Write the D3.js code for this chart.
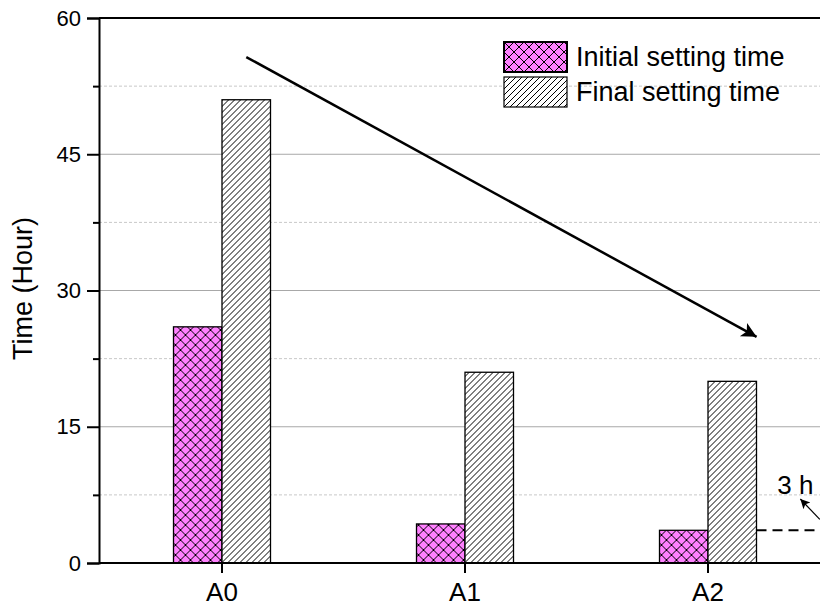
<!DOCTYPE html>
<html>
<head>
<meta charset="utf-8">
<script src="https://cdn.jsdelivr.net/npm/d3@7"></script>
<style>
  body { margin: 0; background: #fff; }
  svg { display: block; font-family: "Liberation Sans", Arial, sans-serif; }
</style>
</head>
<body>
<div id="chart"></div>
<script>
// data
const categories = ["A0", "A1", "A2"];
const series = ["Initial setting time", "Final setting time"];
const initialTime = [26, 4.3, 3.6];
const finalTime = [51, 21, 20];
const yTicks = [0, 15, 30, 45, 60];
const yMinorTicks = [7.5, 22.5, 37.5, 52.5];

const width = 820, height = 609;
const margin = { top: 18, left: 99, bottom: 46 };
const step = 243;

const svg = d3.select("#chart").append("svg")
    .attr("width", width)
    .attr("height", height);

const defs = svg.append("defs");

// crosshatch for initial setting time
const cross = defs.append("pattern")
    .attr("id", "cross")
    .attr("patternUnits", "userSpaceOnUse")
    .attr("width", 10).attr("height", 10);
cross.append("rect").attr("width", 10).attr("height", 10).attr("fill", "#ff80ff");
cross.append("path")
    .attr("d", "M0,0L10,10M10,0L0,10M-5,5L5,15M5,-5L15,5M-5,5L5,-5M5,15L15,5")
    .attr("stroke", "#000").attr("stroke-width", 1);

// diagonal hatch for final setting time
const hatch = defs.append("pattern")
    .attr("id", "hatch")
    .attr("patternUnits", "userSpaceOnUse")
    .attr("width", 6).attr("height", 6);
hatch.append("rect").attr("width", 6).attr("height", 6).attr("fill", "#fff");
hatch.append("path")
    .attr("d", "M-1,7L7,-1M-4,4L4,-4M2,10L10,2")
    .attr("stroke", "#000").attr("stroke-width", 1);

defs.append("marker")
    .attr("id", "head")
    .attr("viewBox", "0 0 10 10")
    .attr("refX", 10).attr("refY", 5)
    .attr("markerWidth", 8).attr("markerHeight", 6)
    .attr("markerUnits", "strokeWidth")
    .attr("orient", "auto")
  .append("path").attr("d", "M0,0L10,5L0,10L2.5,5Z").attr("fill", "#000");

defs.append("marker")
    .attr("id", "smallhead")
    .attr("viewBox", "0 0 10 10")
    .attr("refX", 10).attr("refY", 5)
    .attr("markerWidth", 10).attr("markerHeight", 8)
    .attr("markerUnits", "strokeWidth")
    .attr("orient", "auto")
  .append("path").attr("d", "M0,0L10,5L0,10L2.5,5Z").attr("fill", "#000");

const y = d3.scaleLinear().domain([0, 60]).range([height - margin.bottom, margin.top]);
const x = d3.scaleBand().domain(categories)
    .range([margin.left + 1.5, margin.left + 1.5 + step * categories.length]);
const xs = d3.scaleBand().domain(series)
    .range([x.bandwidth() / 2 - 48.5, x.bandwidth() / 2 + 48.5]);
// continuous category index for annotations
const xi = d3.scaleLinear().domain([0, 2])
    .range([x("A0") + x.bandwidth() / 2, x("A2") + x.bandwidth() / 2]);

const right = width + 10;

// gridlines
svg.append("g").selectAll("line").data(yMinorTicks).join("line")
    .attr("x1", margin.left).attr("x2", right)
    .attr("y1", d => y(d)).attr("y2", d => y(d))
    .attr("stroke", "#c8c8c8").attr("stroke-dasharray", "3,2");
svg.append("g").selectAll("line").data(yTicks.filter(d => d > 0 && d < 60)).join("line")
    .attr("x1", margin.left).attr("x2", right)
    .attr("y1", d => y(d)).attr("y2", d => y(d))
    .attr("stroke", "#a8a8a8").attr("stroke-width", 1);

// bars
const rows = categories.map((c, i) => ({ cat: c, vals: [initialTime[i], finalTime[i]] }));
const groups = svg.append("g").selectAll("g").data(rows).join("g")
    .attr("transform", d => `translate(${x(d.cat)},0)`);
groups.selectAll("rect")
  .data(d => d.vals.map((v, j) => ({ s: series[j], v: v, j: j })))
  .join("rect")
    .attr("x", d => xs(d.s))
    .attr("width", xs.bandwidth())
    .attr("y", d => y(d.v))
    .attr("height", d => y(0) - y(d.v))
    .attr("fill", d => d.j === 0 ? "url(#cross)" : "url(#hatch)")
    .attr("stroke", "#000")
    .attr("stroke-width", 1.3);

// axes
const yAxis = svg.append("g")
    .attr("transform", `translate(${margin.left},0)`)
    .call(d3.axisLeft(y).tickValues(yTicks).tickSize(12).tickPadding(6));
yAxis.selectAll(".tick text").attr("font-size", 22);
svg.append("g")
    .attr("transform", `translate(${margin.left},0)`)
    .call(d3.axisLeft(y).tickValues(yMinorTicks).tickSize(6).tickFormat(""))
    .call(g => g.select(".domain").remove());
const xAxis = svg.append("g")
    .attr("transform", `translate(0,${y(0)})`)
    .call(d3.axisBottom(x).tickSize(10).tickPadding(10).tickSizeOuter(0));
xAxis.select(".domain").attr("d", `M${margin.left},0H${right}`);
xAxis.selectAll(".tick text").attr("font-size", 26);

svg.selectAll(".tick line").attr("stroke", "#000").attr("stroke-width", 2);
svg.selectAll(".domain").attr("stroke", "#000").attr("stroke-width", 2);
svg.selectAll(".tick text").attr("fill", "#000")
    .attr("font-family", "Liberation Sans, Arial, sans-serif");

// top frame
svg.append("line")
    .attr("x1", margin.left).attr("x2", right)
    .attr("y1", y(60)).attr("y2", y(60))
    .attr("stroke", "#000").attr("stroke-width", 2);

// y title
svg.append("text")
    .attr("transform", `translate(32,${y(30) - 2}) rotate(-90)`)
    .attr("text-anchor", "middle")
    .attr("font-size", 27)
    .text("Time (Hour)");

// trend arrow
svg.append("line")
    .attr("x1", xi(0.1)).attr("y1", y(55.7))
    .attr("x2", xi(2.2)).attr("y2", y(24.9))
    .attr("stroke", "#000").attr("stroke-width", 2.5)
    .attr("marker-end", "url(#head)");

// 3 h annotation
svg.append("line")
    .attr("x1", x("A2") + xs(series[1]) + xs.bandwidth()).attr("x2", right)
    .attr("y1", y(initialTime[2])).attr("y2", y(initialTime[2]))
    .attr("stroke", "#000").attr("stroke-width", 2).attr("stroke-dasharray", "10,6");
svg.append("line")
    .attr("x1", xi(2.46)).attr("y1", y(4.8))
    .attr("x2", xi(2.38)).attr("y2", y(7.05))
    .attr("stroke", "#000").attr("stroke-width", 1.2)
    .attr("marker-end", "url(#smallhead)");
svg.append("text")
    .attr("x", xi(2.285)).attr("y", y(7.6))
    .attr("font-size", 26)
    .text("3 h");

// legend
const legend = svg.append("g").attr("transform", "translate(504,42)");
series.forEach((s, j) => {
  const g = legend.append("g").attr("transform", `translate(0,${j * 35})`);
  g.append("rect")
      .attr("width", 63).attr("height", 30)
      .attr("fill", j === 0 ? "url(#cross)" : "url(#hatch)")
      .attr("stroke", "#000").attr("stroke-width", j === 0 ? 2 : 1.2);
  g.append("text")
      .attr("x", 72).attr("y", 24)
      .attr("font-size", 27)
      .text(s);
});
</script>
</body>
</html>
